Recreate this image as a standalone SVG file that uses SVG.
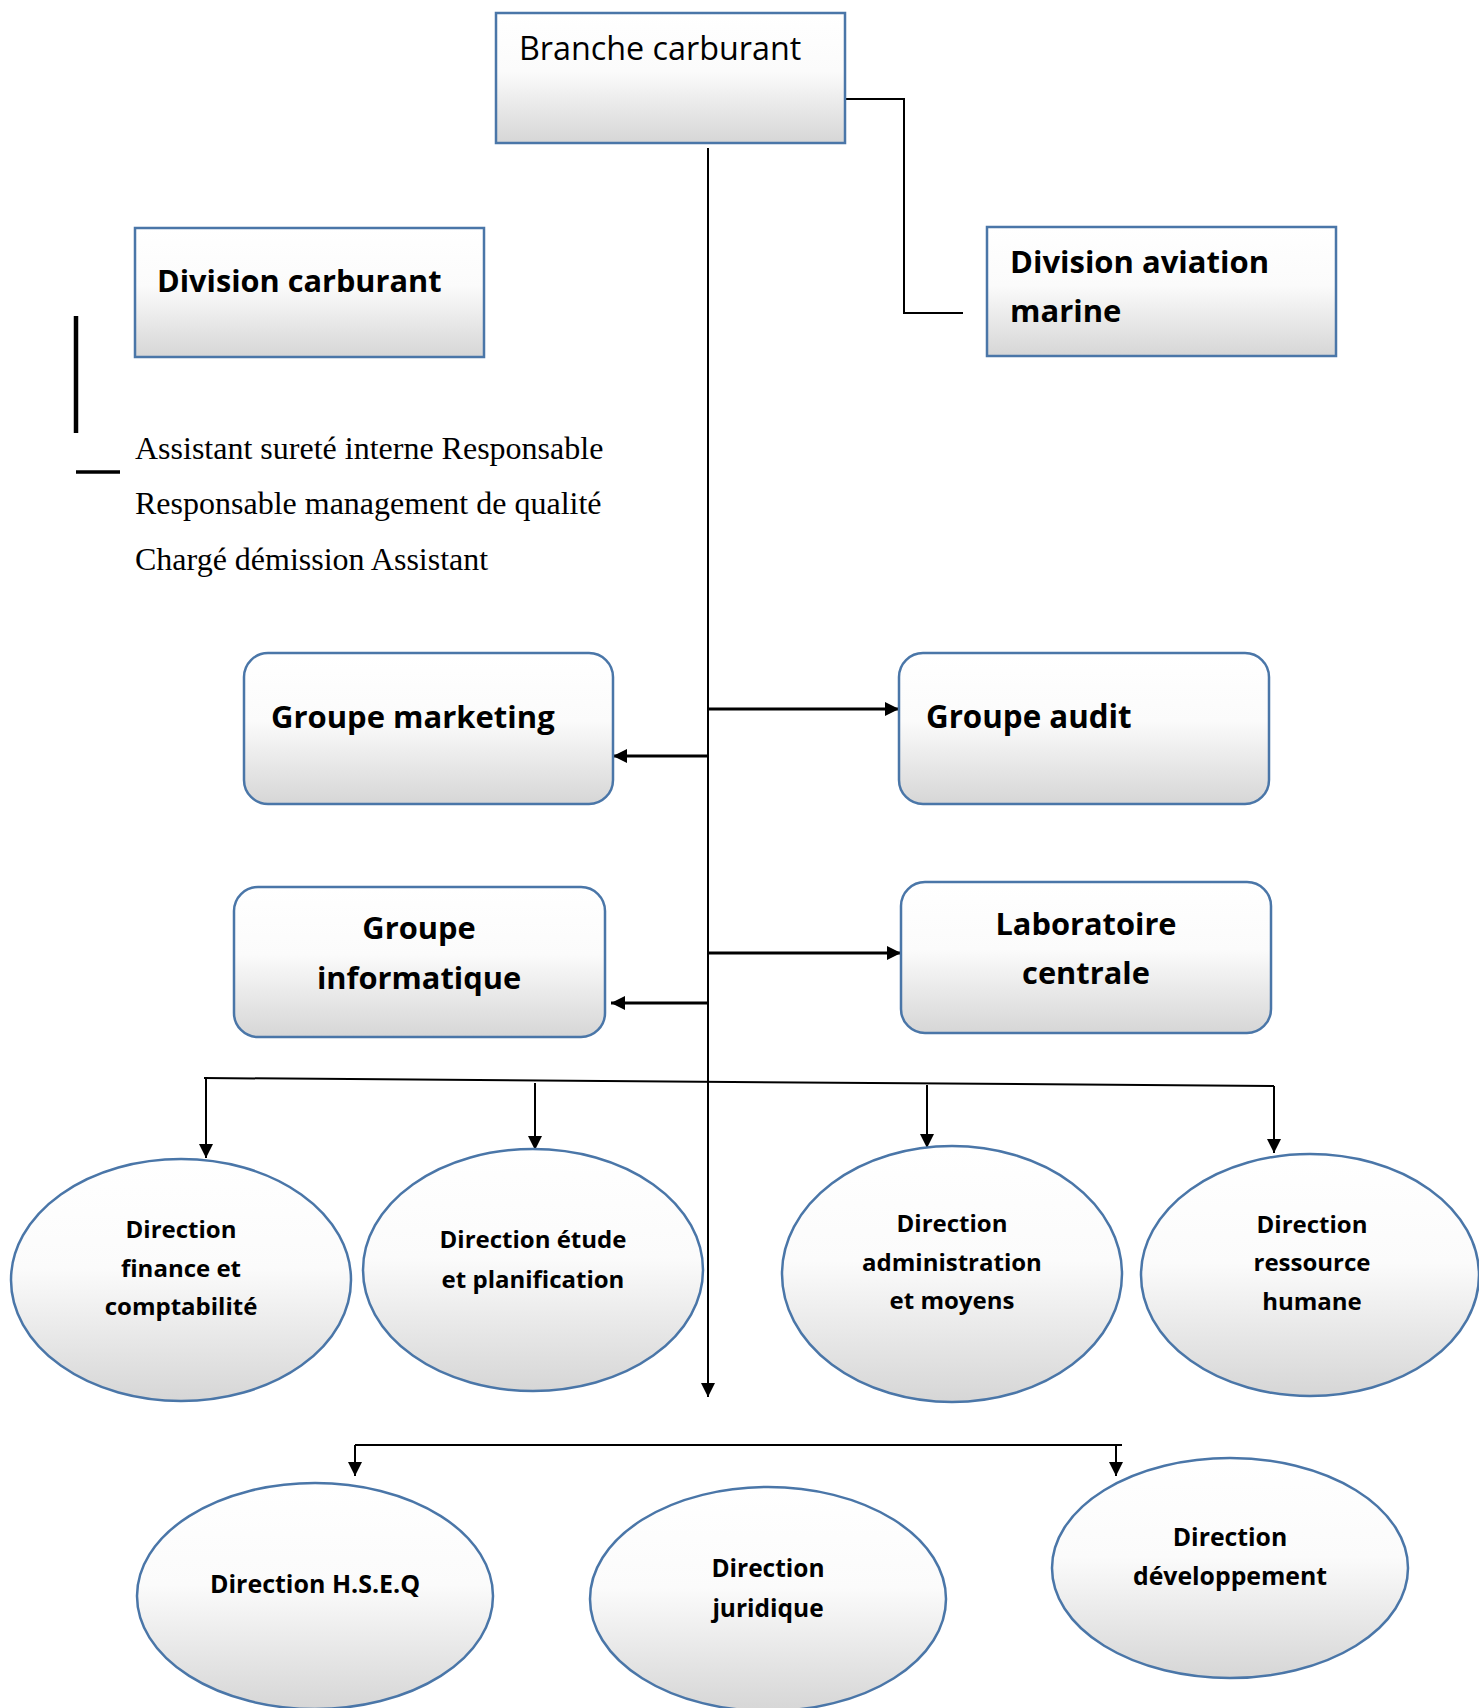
<svg xmlns="http://www.w3.org/2000/svg" width="1479" height="1708" viewBox="0 0 1479 1708">
  <defs>
    <linearGradient id="shade" x1="0" y1="0" x2="0" y2="1">
      <stop offset="0" stop-color="#ffffff"/>
      <stop offset="0.45" stop-color="#fbfbfb"/>
      <stop offset="1" stop-color="#d6d6d6"/>
    </linearGradient>
    <marker id="head" viewBox="0 0 14 14" refX="14" refY="7" markerWidth="14" markerHeight="14" markerUnits="userSpaceOnUse" orient="auto">
      <path d="M0,0 L14,7 L0,14 z" fill="#000"/>
    </marker>
    <filter id="soft" x="-50%" y="-10%" width="200%" height="130%">
      <feGaussianBlur stdDeviation="1.5"/>
    </filter>
  </defs>
  <style>
    .box { fill: url(#shade); stroke: #4a76a8; stroke-width: 2.5; }
    .cal { font-family: "Open Sans", "Liberation Sans", sans-serif; fill: #000; }
    .b { font-weight: 700; }
    .mid { text-anchor: middle; }
    .ser { font-family: "Liberation Serif", "Times New Roman", serif; font-size: 32px; fill: #000; }
    .ln { fill: none; stroke: #000; stroke-width: 2; }
    .ar { fill: none; stroke: #000; stroke-width: 3; marker-end: url(#head); }
    .ar2 { fill: none; stroke: #000; stroke-width: 2; marker-end: url(#head); }
  </style>

  <rect width="1479" height="1708" fill="#ffffff"/>

  <!-- connectors -->
  <g id="connectors">
    <line class="ln" x1="708" y1="148" x2="708" y2="1383"/>
    <line class="ar2" x1="708" y1="1380" x2="708" y2="1397"/>
    <polyline class="ln" points="845,99 904,99 904,313 963,313"/>
    <line class="ar" x1="708" y1="709" x2="899" y2="709"/>
    <line class="ar" x1="708" y1="756" x2="613" y2="756"/>
    <line class="ar" x1="708" y1="953" x2="901" y2="953"/>
    <line class="ar" x1="708" y1="1003" x2="611" y2="1003"/>
    <line class="ln" x1="204" y1="1078" x2="1274" y2="1086"/>
    <line class="ar2" x1="206" y1="1078" x2="206" y2="1158"/>
    <line class="ar2" x1="535" y1="1083" x2="535" y2="1150"/>
    <line class="ar2" x1="927" y1="1085" x2="927" y2="1148"/>
    <line class="ar2" x1="1274" y1="1086" x2="1274" y2="1153"/>
    <line class="ln" x1="355" y1="1445" x2="1122" y2="1445"/>
    <line class="ar2" x1="355" y1="1445" x2="355" y2="1476"/>
    <line class="ar2" x1="1116" y1="1445" x2="1116" y2="1476"/>
  </g>

  <!-- free-standing marks beside the staff list -->
  <g id="staff-marks">
    <line x1="78" y1="318" x2="78" y2="436" stroke="#9a9a9a" stroke-width="4.5" filter="url(#soft)"/>
    <line x1="76" y1="316" x2="76" y2="433" stroke="#000" stroke-width="4.5"/>
    <line x1="76" y1="472" x2="120" y2="472" stroke="#000" stroke-width="3.5"/>
  </g>

  <g id="staff-list">
    <text class="ser" x="135" y="459">Assistant sureté interne Responsable</text>
    <text class="ser" x="135" y="514">Responsable management de qualité</text>
    <text class="ser" x="135" y="570">Chargé démission Assistant</text>
  </g>

  <g id="branche-carburant">
    <rect class="box" x="496" y="13" width="349" height="130"/>
    <text class="cal" x="519" y="60" font-size="32.3">Branche carburant</text>
  </g>

  <g id="division-carburant">
    <rect class="box" x="135" y="228" width="349" height="129"/>
    <text class="cal b" x="157" y="292" font-size="30.7">Division carburant</text>
  </g>

  <g id="division-aviation-marine">
    <rect class="box" x="987" y="227" width="349" height="129"/>
    <text class="cal b" x="1010" y="273" font-size="31">Division aviation</text>
    <text class="cal b" x="1010" y="322" font-size="31">marine</text>
  </g>

  <g id="groupe-marketing">
    <rect class="box" x="244" y="653" width="369" height="151" rx="24" ry="24"/>
    <text class="cal b" x="271" y="728" font-size="31">Groupe marketing</text>
  </g>

  <g id="groupe-audit">
    <rect class="box" x="899" y="653" width="370" height="151" rx="24" ry="24"/>
    <text class="cal b" x="926" y="728" font-size="31.3">Groupe audit</text>
  </g>

  <g id="groupe-informatique">
    <rect class="box" x="234" y="887" width="371" height="150" rx="24" ry="24"/>
    <text class="cal b mid" x="419" y="939" font-size="30.8">Groupe</text>
    <text class="cal b mid" x="419" y="989" font-size="30.8">informatique</text>
  </g>

  <g id="laboratoire-centrale">
    <rect class="box" x="901" y="882" width="370" height="151" rx="24" ry="24"/>
    <text class="cal b mid" x="1086" y="935" font-size="30.8">Laboratoire</text>
    <text class="cal b mid" x="1086" y="984" font-size="30.8">centrale</text>
  </g>

  <g id="direction-finance">
    <ellipse class="box" cx="181" cy="1280" rx="170" ry="121"/>
    <text class="cal b mid" x="181" y="1238" font-size="24">Direction</text>
    <text class="cal b mid" x="181" y="1277" font-size="24">finance et</text>
    <text class="cal b mid" x="181" y="1315" font-size="24">comptabilité</text>
  </g>

  <g id="direction-etude">
    <ellipse class="box" cx="533" cy="1270" rx="170" ry="121"/>
    <text class="cal b mid" x="533" y="1248" font-size="24">Direction étude</text>
    <text class="cal b mid" x="533" y="1288" font-size="24">et planification</text>
  </g>

  <g id="direction-administration">
    <ellipse class="box" cx="952" cy="1274" rx="170" ry="128"/>
    <text class="cal b mid" x="952" y="1232" font-size="24">Direction</text>
    <text class="cal b mid" x="952" y="1271" font-size="24">administration</text>
    <text class="cal b mid" x="952" y="1309" font-size="24">et moyens</text>
  </g>

  <g id="direction-ressource">
    <ellipse class="box" cx="1310" cy="1275" rx="169" ry="121"/>
    <text class="cal b mid" x="1312" y="1233" font-size="24">Direction</text>
    <text class="cal b mid" x="1312" y="1271" font-size="24">ressource</text>
    <text class="cal b mid" x="1312" y="1310" font-size="24">humane</text>
  </g>

  <g id="direction-hseq">
    <ellipse class="box" cx="315" cy="1596" rx="178" ry="113"/>
    <text class="cal b mid" x="315" y="1593" font-size="25">Direction H.S.E.Q</text>
  </g>

  <g id="direction-juridique">
    <ellipse class="box" cx="768" cy="1599" rx="178" ry="112"/>
    <text class="cal b mid" x="768" y="1577" font-size="24.5">Direction</text>
    <text class="cal b mid" x="768" y="1617" font-size="24.5">juridique</text>
  </g>

  <g id="direction-developpement">
    <ellipse class="box" cx="1230" cy="1568" rx="178" ry="110"/>
    <text class="cal b mid" x="1230" y="1546" font-size="24.8">Direction</text>
    <text class="cal b mid" x="1230" y="1585" font-size="24.8">développement</text>
  </g>
</svg>
